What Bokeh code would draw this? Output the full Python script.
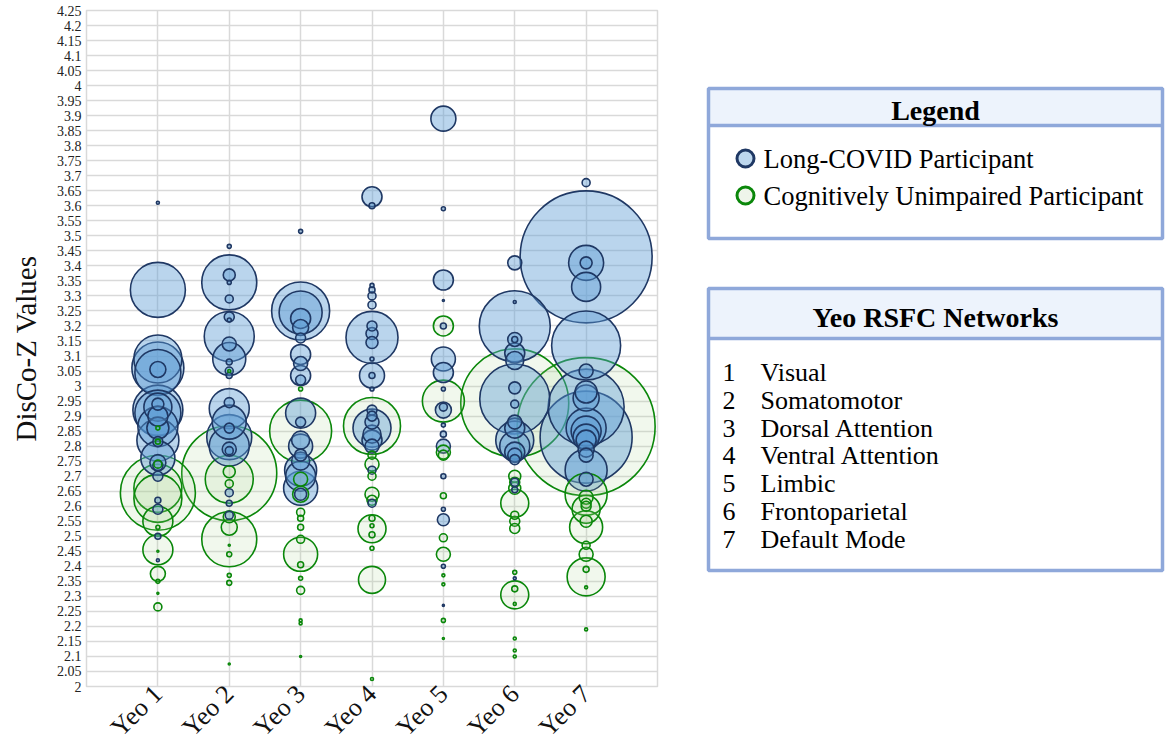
import math
from bokeh.plotting import figure
from bokeh.layouts import row
from bokeh.models import ColumnDataSource, Range1d, FixedTicker
from bokeh.core.properties import value
from bokeh.embed import file_html
from bokeh.resources import INLINE

# ---------------- data ----------------
categories = ["Yeo 1", "Yeo 2", "Yeo 3", "Yeo 4", "Yeo 5", "Yeo 6", "Yeo 7"]
y_ticks = [round(2 + 0.05 * i, 2) for i in range(46)]

# Long-COVID participants: network index, DisCo-Z value, bubble size
lc_network = [1]*23 + [2]*24 + [3]*20 + [4]*23 + [5]*18 + [6]*20 + [7]*19
lc_value = [
    3.61, 3.32, 3.09, 3.06, 3.055, 3.045, 2.92, 2.91, 2.93, 2.90, 2.94, 2.865, 2.86, 2.82, 2.815, 2.76, 2.745, 2.735, 2.70, 2.62, 2.59, 2.50, 2.42,
    3.465, 3.345, 3.37, 3.345, 3.29, 3.165, 3.23, 3.22, 3.14, 3.09, 3.08, 3.05, 3.035, 2.925, 2.945, 2.88, 2.86, 2.83, 2.80, 2.79, 2.785, 2.645, 2.61, 2.57,
    3.515, 3.25, 3.245, 3.225, 3.195, 3.16, 3.105, 3.075, 3.035, 3.02, 2.91, 2.88, 2.82, 2.80, 2.77, 2.75, 2.72, 2.70, 2.66, 2.64,
    3.63, 3.60, 3.335, 3.32, 3.30, 3.27, 3.20, 3.162, 3.175, 3.145, 3.09, 3.035, 3.035, 2.99, 2.92, 2.90, 2.88, 2.86, 2.84, 2.82, 2.80, 2.72, 2.61,
    3.89, 3.59, 3.353, 3.285, 3.20, 3.09, 3.045, 2.99, 2.93, 2.92, 2.87, 2.84, 2.80, 2.70, 2.59, 2.555, 2.40, 2.27,
    3.41, 3.28, 3.199, 3.155, 3.155, 3.11, 3.085, 2.957, 2.994, 2.94, 2.88, 2.86, 2.82, 2.80, 2.78, 2.77, 2.755, 2.68, 2.655, 2.36,
    3.677, 3.43, 3.41, 3.41, 3.33, 3.135, 3.05, 2.98, 2.96, 2.93, 2.83, 2.86, 2.85, 2.83, 2.82, 2.79, 2.77, 2.72, 2.69,
]
lc_bubble = [
    3, 55, 48, 52, 16, 46, 50, 46, 28, 20, 12, 40, 22, 42, 10, 34, 16, 10, 10, 6, 10, 6, 3,
    4, 55, 12, 4, 8, 50, 10, 4, 14, 33, 6, 8, 6, 40, 10, 34, 10, 45, 40, 14, 8, 8, 6, 8,
    4, 58, 43, 20, 16, 10, 20, 14, 20, 10, 30, 10, 18, 24, 12, 18, 32, 30, 34, 12,
    20, 6, 4, 6, 8, 8, 10, 52, 12, 12, 4, 25, 6, 4, 10, 10, 14, 38, 18, 20, 14, 8, 8,
    25, 4, 20, 2, 6, 24, 20, 4, 8, 16, 4, 6, 14, 5, 4, 12, 4, 2,
    14, 3, 71, 14, 6, 20, 18, 70, 12, 8, 14, 20, 38, 30, 20, 14, 10, 8, 6, 3,
    8, 132, 35, 12, 29, 69, 14, 22, 26, 76, 92, 40, 30, 26, 20, 16, 14, 42, 14,
]

# Cognitively unimpaired participants
cu_network = [1]*14 + [2]*13 + [3]*15 + [4]*13 + [5]*11 + [6]*15 + [7]*14
cu_value = [
    2.645, 2.66, 2.626, 2.55, 2.455, 2.375, 2.265, 2.53, 2.35, 2.31, 2.45, 2.74, 2.86, 2.815,
    2.71, 2.69, 2.49, 2.715, 2.675, 2.565, 2.53, 2.47, 2.44, 2.37, 2.345, 2.075, 3.05,
    2.85, 2.99, 2.69, 2.64, 2.58, 2.56, 2.53, 2.49, 2.44, 2.405, 2.36, 2.32, 2.22, 2.21, 2.10,
    2.867, 2.77, 2.74, 2.70, 2.64, 2.62, 2.525, 2.56, 2.535, 2.505, 2.46, 2.355, 2.025,
    3.20, 2.95, 2.78, 2.77, 2.635, 2.495, 2.44, 2.37, 2.34, 2.22, 2.16,
    2.944, 2.70, 2.68, 2.66, 2.61, 2.57, 2.55, 2.526, 2.38, 2.305, 2.325, 2.275, 2.16, 2.12, 2.10,
    2.865, 2.64, 2.59, 2.53, 2.63, 2.61, 2.60, 2.55, 2.47, 2.44, 2.39, 2.365, 2.33, 2.19,
]
cu_bubble = [
    75, 48, 48, 30, 30, 15, 8, 4, 4, 2, 2, 8, 4, 5,
    95, 48, 55, 12, 8, 12, 16, 2, 5, 4, 5, 2, 3,
    62, 4, 14, 16, 8, 6, 6, 8, 34, 6, 4, 8, 3, 3, 2,
    57, 8, 14, 8, 14, 10, 28, 6, 4, 6, 4, 27, 3,
    20, 42, 14, 10, 6, 8, 14, 3, 3, 4, 2,
    108, 12, 10, 12, 28, 8, 10, 10, 4, 28, 6, 3, 3, 3, 3,
    138, 42, 28, 33, 14, 10, 10, 12, 8, 14, 6, 38, 3, 3,
]

legend_labels = ["Long-COVID Participant", "Cognitively Unimpaired Participant"]
network_ids = ["1", "2", "3", "4", "5", "6", "7"]
network_names = ["Visual", "Somatomotor", "Dorsal Attention", "Ventral Attention",
                 "Limbic", "Frontoparietal", "Default Mode"]

# ---------------- styles ----------------
SERIF = "Liberation Serif"
LC_LINE, LC_FILL = "#1F3864", "#5B9BD5"
CU_LINE, CU_FILL = "#0A870A", "#A9D18E"
GRID = "#D9D9D9"
BOX_LINE, BOX_HEAD = "#8FA8DA", "#EDF3FC"

# combine & sort by size (largest drawn first)
rows = []
for n, v, b in zip(lc_network, lc_value, lc_bubble):
    rows.append((b, n, v, LC_LINE, LC_FILL, 0.42))
for n, v, b in zip(cu_network, cu_value, cu_bubble):
    rows.append((b, n, v, CU_LINE, CU_FILL, 0.16))
rows.sort(key=lambda r: -r[0])
src = ColumnDataSource(dict(
    size=[r[0] for r in rows], x=[r[1] for r in rows], y=[r[2] for r in rows],
    lc=[r[3] for r in rows], fc=[r[4] for r in rows], fa=[r[5] for r in rows],
))

# ---------------- chart ----------------
FRAME_TOP, FRAME_H = 10, 676
p = figure(frame_width=571, frame_height=FRAME_H, output_backend="svg", toolbar_location=None,
           x_range=Range1d(0, 8), y_range=Range1d(2, 4.25),
           min_border_left=86, min_border_right=23, min_border_top=FRAME_TOP, min_border_bottom=40)
p.background_fill_color = "white"
p.border_fill_color = "white"
p.outline_line_color = GRID
p.outline_line_width = 1.5

p.scatter("x", "y", size="size", source=src, marker="circle",
          line_color="lc", fill_color="fc", fill_alpha="fa", line_width=1.6)

p.yaxis.ticker = FixedTicker(ticks=y_ticks)
p.yaxis.major_label_overrides = {t: f"{t:g}" for t in y_ticks}
p.yaxis.major_label_text_font = SERIF
p.yaxis.major_label_text_font_size = "14px"
p.yaxis.major_label_text_color = "#222222"
p.yaxis.axis_label = "DisCo-Z Values"
p.yaxis.axis_label_text_font = SERIF
p.yaxis.axis_label_text_font_size = "29px"
p.yaxis.axis_label_text_font_style = "normal"
p.yaxis.axis_label_text_color = "#111111"
p.yaxis.axis_label_standoff = 12
p.yaxis.major_label_standoff = 5

p.xaxis.ticker = FixedTicker(ticks=list(range(1, 8)))
p.xaxis.major_label_overrides = {i + 1: c for i, c in enumerate(categories)}
p.xaxis.major_label_orientation = math.pi / 4
p.xaxis.major_label_text_font = SERIF
p.xaxis.major_label_text_font_size = "26px"
p.xaxis.major_label_text_color = "#111111"
p.xaxis.major_label_standoff = 3

for ax in (p.xaxis, p.yaxis):
    ax.axis_line_color = None
    ax.major_tick_line_color = None
    ax.minor_tick_line_color = None
    ax.major_tick_out = 0
    ax.major_tick_in = 0

p.xgrid.grid_line_color = GRID
p.xgrid.grid_line_width = 1.5
p.ygrid.grid_line_color = GRID
p.ygrid.grid_line_width = 1.5

# ---------------- legend panel (coordinates in page pixels) ----------------
X0, W2 = 680, 486
q = figure(frame_width=W2, frame_height=FRAME_H, output_backend="svg", toolbar_location=None,
           x_range=Range1d(X0, X0 + W2), y_range=Range1d(FRAME_TOP + FRAME_H, FRAME_TOP),
           min_border=0)
q.axis.visible = False
q.grid.visible = False
q.outline_line_color = None
q.background_fill_color = "white"
q.border_fill_color = "white"

BL, BR = 708, 1162
q.quad(left=[BL, BL], right=[BR, BR], top=[88, 288], bottom=[125, 338],
       fill_color=BOX_HEAD, line_color=None)
q.quad(left=[BL, BL], right=[BR, BR], top=[88, 288], bottom=[238, 570],
       fill_color=None, line_color=BOX_LINE, line_width=3.5)
q.segment(x0=[BL, BL], x1=[BR, BR], y0=[125, 338], y1=[125, 338],
          line_color=BOX_LINE, line_width=3.5)

q.text(x=[(BL + BR) / 2] * 2, y=[110, 317], text=["Legend", "Yeo RSFC Networks"],
       text_font=value(SERIF), text_font_size="28px", text_font_style="bold",
       text_align="center", text_baseline="middle", text_color="#000000")

q.scatter(x=[745], y=[158], size=17, marker="circle", line_color=LC_LINE,
          fill_color="#BDD7EE", line_width=3)
q.scatter(x=[745], y=[195], size=17, marker="circle", line_color=CU_LINE,
          fill_color="#EEF5EA", line_width=3)
q.text(x=[763, 763], y=[158, 195], text=legend_labels,
       text_font=value(SERIF), text_font_size="26.5px",
       text_align="left", text_baseline="middle", text_color="#000000")

ny = [372 + 27.8 * i for i in range(len(network_ids))]
q.text(x=[722] * len(network_ids), y=ny, text=network_ids,
       text_font=value(SERIF), text_font_size="26px",
       text_align="left", text_baseline="middle", text_color="#000000")
q.text(x=[760] * len(network_names), y=ny, text=network_names,
       text_font=value(SERIF), text_font_size="26px",
       text_align="left", text_baseline="middle", text_color="#000000")

layout = row(p, q, spacing=0)
open("out.html", "w").write(file_html(layout, INLINE))
